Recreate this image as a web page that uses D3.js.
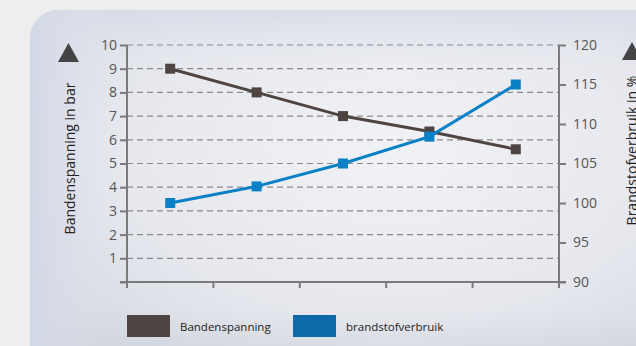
<!DOCTYPE html>
<html><head><meta charset="utf-8">
<script src="https://cdn.jsdelivr.net/npm/d3@7/dist/d3.min.js"></script>
<style>html,body{margin:0;padding:0;background:#eeeeee;overflow:hidden}svg{display:block}</style>
</head><body>
<svg id="c" width="636" height="346"></svg>
<script>
const categories = ["1","2","3","4","5"];
const pressure = [9.0, 8.0, 7.0, 6.35, 5.6];       // Bandenspanning (bar, left axis)
const fuel = [100, 102.1, 105, 108.4, 115];       // brandstofverbruik (%, right axis)
const leftTicks = [1,2,3,4,5,6,7,8,9,10];
const rightTicks = [90,95,100,105,110,115,120];
const seriesNames = ["Bandenspanning", "brandstofverbruik"];
const leftTitle = "Bandenspanning in bar";
const rightTitle = "Brandstofverbruik in %";

const svg = d3.select("#c");
const W = 636, H = 346;
const font = "'Open Sans', 'Noto Sans', sans-serif";
const brown = "#4e4442", blue = "#0a80c6", legendBlue = "#0d69a8";

// background
const defs = svg.append("defs");
const rg = defs.append("radialGradient").attr("id","pg")
  .attr("cx","0.55").attr("cy","0.35").attr("r","0.75");
rg.append("stop").attr("offset","0").attr("stop-color","#f1f2f5");
rg.append("stop").attr("offset","0.55").attr("stop-color","#e6e8ee");
rg.append("stop").attr("offset","1").attr("stop-color","#cfd3dc");
const lg = defs.append("linearGradient").attr("id","lg").attr("x1","0").attr("x2","0").attr("y1","0").attr("y2","1");
lg.append("stop").attr("offset","0").attr("stop-color","#d6dae6").attr("stop-opacity",0.8);
lg.append("stop").attr("offset","0.15").attr("stop-color","#e4e6ee").attr("stop-opacity",0);
lg.append("stop").attr("offset","0.75").attr("stop-color","#d0d4dc").attr("stop-opacity",0);
lg.append("stop").attr("offset","1").attr("stop-color","#c3c7cf").attr("stop-opacity",0.9);
const sg = defs.append("linearGradient").attr("id","sg").attr("x1","0").attr("x2","1").attr("y1","0").attr("y2","0");
sg.append("stop").attr("offset","0").attr("stop-color","#d3d8e7").attr("stop-opacity",1);
sg.append("stop").attr("offset","0.12").attr("stop-color","#e0e3ec").attr("stop-opacity",0);
sg.append("stop").attr("offset","1").attr("stop-color","#e0e3ec").attr("stop-opacity",0);

svg.append("rect").attr("width",W).attr("height",H).attr("fill","#eeeeee");
svg.append("rect").attr("x",30).attr("y",10).attr("width",660).attr("height",400).attr("rx",28).attr("fill","url(#pg)");
svg.append("rect").attr("x",30).attr("y",10).attr("width",660).attr("height",400).attr("rx",28).attr("fill","url(#lg)");
svg.append("rect").attr("x",30).attr("y",10).attr("width",660).attr("height",400).attr("rx",28).attr("fill","url(#sg)");

// scales
const x0 = 127, x1 = 559, yTop = 45, yBot = 282;
const x = d3.scaleBand().domain(categories).range([x0, x1]);
const yL = d3.scaleLinear().domain([0, 10]).range([yBot, yTop]);
const yR = d3.scaleLinear().domain([90, 120]).range([yBot, yTop]);

// gridlines
svg.append("g").selectAll("line").data(leftTicks).join("line")
  .attr("x1", x0).attr("x2", x1)
  .attr("y1", d => yL(d)).attr("y2", d => yL(d))
  .attr("stroke", "#8a8a8a").attr("stroke-width", 1.2).attr("stroke-dasharray", "6,4");

const axisColor = "#7a7a7a";
function styleAxis(g){
  g.selectAll("path").attr("stroke", axisColor).attr("stroke-width", 2);
  g.selectAll("line").attr("stroke", axisColor).attr("stroke-width", 2);
  g.selectAll("text").attr("fill", "#555").attr("font-family", font).attr("font-size", 14);
}
// left axis
const gL = svg.append("g").attr("transform", `translate(${x0},0)`)
  .call(d3.axisLeft(yL).tickValues([0].concat(leftTicks)).tickSize(7).tickPadding(3)
     .tickFormat(d => d === 0 ? "" : d));
styleAxis(gL);
gL.select(".domain").attr("d", `M0,${yTop}V${yBot+6}`);
// right axis
const gR = svg.append("g").attr("transform", `translate(${x1},0)`)
  .call(d3.axisRight(yR).tickValues(rightTicks).tickSize(7).tickPadding(7));
styleAxis(gR);
gR.select(".domain").attr("d", `M0,${yTop}V${yBot+6}`);
// bottom axis
const edges = categories.map(c => x(c)).concat([x1]);
const gB = svg.append("g");
gB.append("line").attr("x1", x0-7).attr("x2", x1+7).attr("y1", yBot).attr("y2", yBot)
  .attr("stroke", axisColor).attr("stroke-width", 2);
gB.selectAll("line.t").data(edges).join("line").attr("class","t")
  .attr("x1", d => d).attr("x2", d => d).attr("y1", yBot).attr("y2", yBot+6)
  .attr("stroke", axisColor).attr("stroke-width", 2);

// lines
const cx = d => x(d) + x.bandwidth()/2;
function drawSeries(vals, scale, color){
  const pts = vals.map((v,i) => [cx(categories[i]), scale(v)]);
  svg.append("path").attr("d", d3.line()(pts)).attr("fill","none")
    .attr("stroke", color).attr("stroke-width", 3);
  svg.append("g").selectAll("rect").data(pts).join("rect")
    .attr("x", d => d[0]-5).attr("y", d => d[1]-5).attr("width", 10).attr("height", 10)
    .attr("fill", color);
}
drawSeries(pressure, yL, brown);
drawSeries(fuel, yR, blue);

// axis titles
svg.append("text").attr("transform", `translate(75,${(77+240)/2}) rotate(-90)`)
  .attr("text-anchor","middle").attr("font-family", font).attr("font-size", 14)
  .attr("fill","#222").text(leftTitle);
svg.append("text").attr("transform", `translate(637,${(72+229)/2}) rotate(-90)`)
  .attr("text-anchor","middle").attr("font-family", font).attr("font-size", 14)
  .attr("fill","#222").text(rightTitle);
// triangles
svg.append("path").attr("d", "M58,62L68.5,43L79,62Z").attr("fill", "#444");
svg.append("path").attr("d", "M622,60L632,42L642,60Z").attr("fill", "#444");

// legend
const leg = [{name: seriesNames[0], color: brown, x: 127}, {name: seriesNames[1], color: legendBlue, x: 293}];
const lgG = svg.append("g").selectAll("g").data(leg).join("g")
  .attr("transform", d => `translate(${d.x},315)`);
lgG.append("rect").attr("width", 43).attr("height", 22).attr("fill", d => d.color);
lgG.append("text").attr("x", 53).attr("y", 16).attr("font-family", font).attr("font-size", 11.5)
  .attr("fill", "#222").text(d => d.name);
</script>
</body></html>
